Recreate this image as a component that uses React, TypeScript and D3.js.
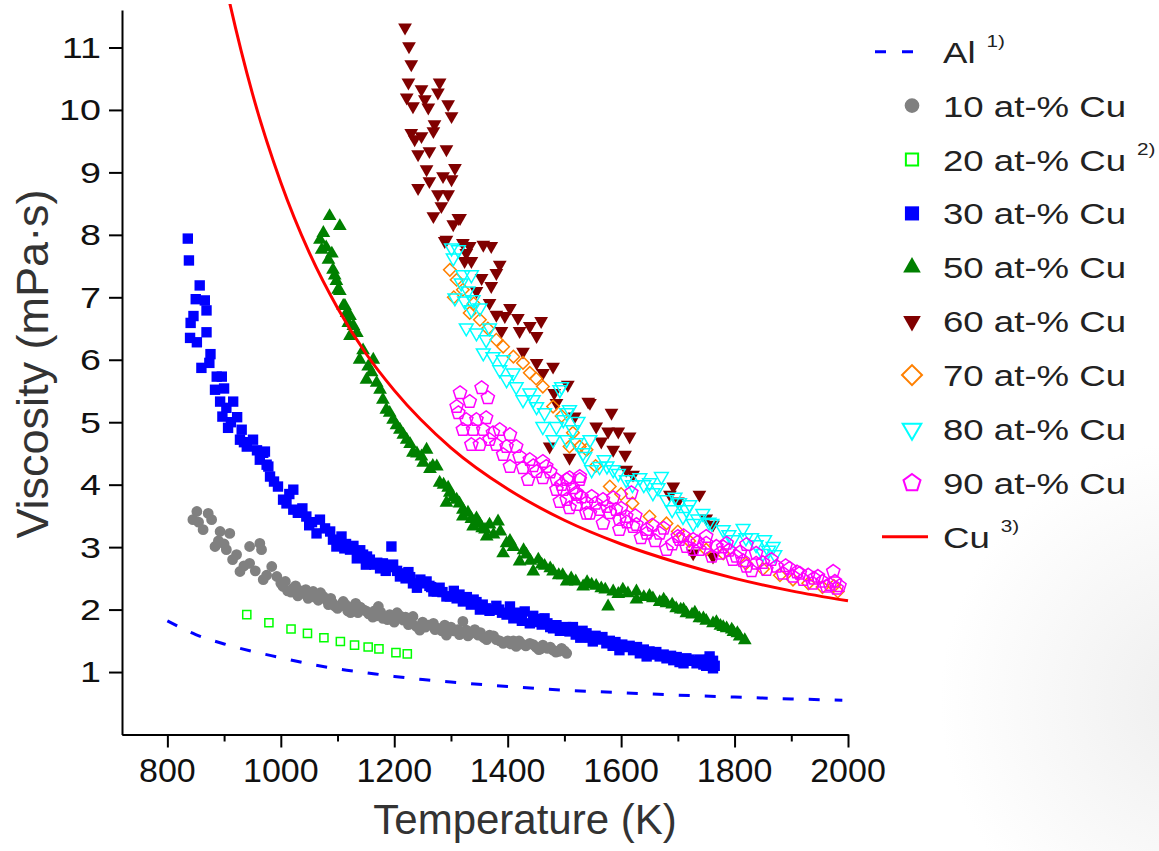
import React, { useEffect, useRef } from "react";
import * as d3 from "d3";

const W = 1159;
const H = 851;

// [temperature K, viscosity mPa·s]
const alLine = [
  [800, 1.82], [850, 1.6], [900, 1.45], [950, 1.33], [1000, 1.23], [1050, 1.13],
  [1100, 1.05], [1150, 0.99], [1200, 0.93], [1250, 0.88], [1300, 0.84], [1400, 0.77],
  [1500, 0.71], [1600, 0.67], [1700, 0.63], [1800, 0.6], [1900, 0.57], [1990, 0.55],
];

const cuLine = [
  [880, 13.0], [900, 12.12], [950, 10.26], [1000, 8.84], [1050, 7.72], [1100, 6.83],
  [1150, 6.1], [1200, 5.51], [1300, 4.59], [1400, 3.93], [1500, 3.43], [1600, 3.05],
  [1700, 2.75], [1800, 2.5], [1900, 2.3], [2000, 2.14],
];

const cu10 = [
  [845, 3.44], [852, 3.57], [855, 3.4], [863, 3.28], [872, 3.54], [878, 3.44], [884, 3.01],
  [890, 3.1], [893, 3.25], [900, 3.05], [904, 2.96], [910, 3.22], [915, 2.8], [922, 2.88],
  [928, 2.61], [935, 2.7], [945, 3.01], [945, 2.74], [955, 2.62], [963, 3.06], [966, 2.96],
  [969, 2.48], [975, 2.55], [984, 2.69], [993, 2.53], [1004, 2.37], [1012, 2.3], [1022, 2.34],
  [1030, 2.22], [1039, 2.26], [1048, 2.18], [1057, 2.29], [1066, 2.15], [1075, 2.21],
  [1084, 2.08], [1092, 2.1], [1100, 2.02], [1110, 2.13], [1118, 1.98], [1128, 2.05],
  [1136, 1.95], [1145, 2.0], [1155, 1.93], [1162, 1.88], [1172, 2.05], [1180, 1.86],
  [1192, 1.92], [1200, 1.8], [1216, 1.83], [1225, 1.76], [1233, 1.89], [1239, 1.73],
  [1245, 1.67], [1255, 1.72], [1269, 1.78], [1278, 1.7], [1289, 1.75], [1292, 1.59],
  [1305, 1.66], [1321, 1.81], [1327, 1.67], [1335, 1.62], [1348, 1.59], [1358, 1.55],
  [1368, 1.59], [1380, 1.52], [1392, 1.46], [1400, 1.5], [1415, 1.41], [1425, 1.45],
  [1439, 1.46], [1450, 1.4], [1462, 1.43], [1470, 1.38], [1480, 1.35], [1490, 1.33],
  [1504, 1.3], [1000, 2.42], [1018, 2.28], [1035, 2.3], [1060, 2.2], [1080, 2.16],
  [1105, 2.06], [1140, 2.04], [1165, 1.98], [1188, 1.84], [1210, 1.9], [1250, 1.8],
  [1300, 1.72], [1315, 1.6], [1342, 1.68], [1410, 1.5], [1455, 1.36], [1495, 1.38],
  [1008, 2.45], [1026, 2.38], [1044, 2.32], [1052, 2.24], [1070, 2.27], [1088, 2.18],
  [1096, 2.05], [1114, 2.08], [1123, 1.95], [1132, 2.1], [1150, 1.98], [1168, 1.9],
  [1176, 1.96], [1196, 1.86], [1205, 1.95], [1220, 1.88], [1230, 1.8], [1260, 1.75],
  [1272, 1.68], [1284, 1.66], [1296, 1.7], [1312, 1.68], [1330, 1.58], [1352, 1.63],
  [1363, 1.52], [1375, 1.58], [1386, 1.5], [1405, 1.45], [1420, 1.5], [1432, 1.42],
  [1445, 1.44], [1458, 1.37], [1475, 1.4], [1485, 1.32], [1500, 1.34],
];

const cu20 = [
  [940, 1.92], [979, 1.79], [1018, 1.69], [1047, 1.62], [1076, 1.55], [1105, 1.49],
  [1130, 1.43], [1154, 1.4], [1173, 1.37], [1203, 1.31], [1223, 1.29],
];

const cu30 = [
  [836, 7.94], [838, 7.59], [857, 7.19], [850, 6.97], [866, 6.95], [869, 6.79], [846, 6.7],
  [841, 6.59], [869, 6.44], [840, 6.35], [852, 6.28], [876, 6.09], [874, 5.95], [860, 5.87],
  [887, 5.73], [896, 5.73], [884, 5.52], [900, 5.54], [893, 5.33], [916, 5.33], [904, 5.23],
  [923, 5.08], [897, 5.09], [907, 4.91], [931, 4.88], [928, 4.72], [940, 4.61], [951, 4.72],
  [972, 4.53], [963, 4.4], [975, 4.32], [969, 4.51], [978, 4.29], [981, 4.13], [995, 3.97],
  [1022, 3.92], [1004, 3.76], [1010, 3.7], [1022, 3.6], [1030, 3.55], [1045, 3.49],
  [1055, 3.4], [1069, 3.44], [1063, 3.22], [1078, 3.3], [1087, 3.25], [1107, 3.17],
  [1098, 3.01], [1115, 3.05], [1122, 2.96], [1134, 2.82], [1145, 2.88], [1157, 2.8],
  [1165, 2.72], [1175, 2.66], [1185, 2.62], [1195, 3.01], [1198, 2.72], [1210, 2.53],
  [1220, 2.5], [1233, 2.42], [1240, 2.35], [1251, 2.42], [1257, 2.45], [1269, 2.29],
  [1275, 2.29], [1285, 2.28], [1292, 2.21], [1298, 2.21], [1310, 2.18], [1321, 2.13],
  [1335, 2.08], [1351, 2.0], [1362, 2.02], [1374, 2.0], [1390, 1.95], [1404, 2.05],
  [1410, 1.86], [1420, 1.88], [1430, 1.97], [1439, 1.78], [1450, 1.8], [1465, 1.86],
  [1475, 1.72], [1486, 1.75], [1497, 1.7], [1509, 1.65], [1520, 1.6], [1528, 1.55],
  [1539, 1.62], [1550, 1.49], [1560, 1.52], [1574, 1.46], [1585, 1.42], [1597, 1.35],
  [1608, 1.4], [1621, 1.35], [1633, 1.3], [1645, 1.25], [1656, 1.28], [1668, 1.25],
  [1680, 1.22], [1692, 1.19], [1703, 1.16], [1715, 1.22], [1725, 1.18], [1733, 1.14],
  [1745, 1.12], [1750, 1.1], [1756, 1.25], [1762, 1.18], [1762, 1.06], [1765, 1.1],
  [912, 5.0], [935, 4.68], [958, 4.55], [988, 4.05], [1015, 3.85], [1038, 3.62],
  [1050, 3.35], [1092, 3.12], [1128, 3.02], [1150, 2.72], [1180, 2.74], [1225, 2.6],
  [1265, 2.36], [1305, 2.3], [1328, 2.2], [1345, 2.12], [1380, 2.06], [1398, 1.92],
  [1445, 1.9], [1460, 1.76], [1492, 1.66], [1515, 1.72], [1545, 1.55], [1567, 1.56],
  [1590, 1.48], [1615, 1.42], [1640, 1.36], [1662, 1.32], [1688, 1.26], [1710, 1.14],
  [1738, 1.2], [1102, 3.1], [1112, 2.98], [1140, 2.95], [1152, 2.85], [1170, 2.75],
  [1190, 2.68], [1205, 2.62], [1215, 2.58], [1228, 2.52], [1246, 2.48], [1262, 2.38],
  [1280, 2.35], [1315, 2.24], [1340, 2.16], [1356, 2.08], [1368, 1.98], [1385, 2.0],
  [1415, 1.95], [1425, 1.82], [1455, 1.85], [1470, 1.78], [1480, 1.7], [1503, 1.72],
  [1532, 1.66], [1555, 1.58], [1580, 1.5], [1602, 1.44], [1628, 1.4], [1650, 1.33],
  [1675, 1.28], [1698, 1.24], [1720, 1.2], [1742, 1.18], [1758, 1.14], [1755, 1.2],
];

const cu50 = [
  [1086, 8.3], [1104, 8.14], [1075, 8.03], [1069, 7.92], [1080, 7.8], [1072, 7.76],
  [1090, 7.7], [1084, 7.6], [1092, 7.44], [1095, 7.35], [1098, 7.26], [1101, 7.12],
  [1104, 7.1], [1110, 6.86], [1113, 6.86], [1116, 6.75], [1122, 6.7], [1119, 6.59],
  [1128, 6.54], [1134, 6.43], [1122, 6.38], [1145, 6.15], [1139, 6.0], [1163, 6.0],
  [1154, 5.89], [1160, 5.8], [1151, 5.68], [1169, 5.63], [1175, 5.52], [1180, 5.36],
  [1186, 5.2], [1192, 5.15], [1198, 5.04], [1204, 4.95], [1210, 4.88], [1216, 4.8],
  [1222, 4.72], [1228, 4.65], [1257, 4.56], [1233, 4.51], [1240, 4.5], [1251, 4.35],
  [1275, 4.29], [1263, 4.25], [1280, 4.03], [1287, 4.0], [1298, 3.87], [1304, 3.8],
  [1310, 3.76], [1292, 3.71], [1321, 3.6], [1330, 3.55], [1321, 3.49], [1345, 3.46],
  [1383, 3.41], [1368, 3.36], [1339, 3.33], [1355, 3.3], [1375, 3.2], [1363, 3.17],
  [1398, 3.06], [1410, 3.0], [1392, 2.9], [1433, 2.88], [1454, 2.8], [1421, 2.77],
  [1465, 2.7], [1445, 2.61], [1480, 2.61], [1490, 2.55], [1504, 2.45], [1520, 2.45],
  [1548, 2.4], [1533, 2.37], [1565, 2.34], [1603, 2.32], [1586, 2.29], [1627, 2.29],
  [1595, 2.25], [1640, 2.2], [1656, 2.18], [1627, 2.16], [1668, 2.12], [1680, 2.1],
  [1690, 2.08], [1577, 2.05], [1697, 2.02], [1705, 2.0], [1715, 1.94], [1725, 1.92],
  [1738, 1.86], [1750, 1.82], [1762, 1.78], [1775, 1.74], [1786, 1.7], [1798, 1.64],
  [1809, 1.57], [1818, 1.51], [1248, 4.45], [1268, 4.3], [1295, 3.95], [1315, 3.7],
  [1336, 3.45], [1350, 3.38], [1360, 3.28], [1387, 3.25], [1404, 3.1], [1428, 2.95],
  [1440, 2.78], [1460, 2.72], [1475, 2.66], [1497, 2.55], [1512, 2.5], [1540, 2.44],
  [1556, 2.38], [1572, 2.32], [1612, 2.26], [1650, 2.22], [1675, 2.16], [1710, 2.0],
  [1730, 1.95], [1745, 1.86], [1768, 1.8], [1780, 1.72], [1795, 1.68], [1805, 1.62],
];

const cu60 = [
  [1219, 11.32], [1226, 11.02], [1230, 10.73], [1225, 10.44], [1280, 10.44], [1248, 10.33],
  [1277, 10.28], [1222, 10.2], [1233, 10.06], [1254, 10.17], [1260, 10.04], [1295, 10.09],
  [1301, 9.9], [1271, 9.77], [1269, 9.66], [1230, 9.63], [1236, 9.53], [1248, 9.58],
  [1292, 9.37], [1242, 9.29], [1262, 9.34], [1257, 9.05], [1307, 9.07], [1286, 8.94],
  [1301, 8.89], [1262, 8.86], [1242, 8.75], [1277, 8.65], [1295, 8.65], [1283, 8.46],
  [1269, 8.3], [1313, 8.27], [1316, 8.27], [1304, 8.17], [1292, 7.92], [1289, 7.9],
  [1321, 7.87], [1333, 7.82], [1357, 7.84], [1371, 7.82], [1327, 7.71], [1324, 7.58],
  [1336, 7.58], [1386, 7.52], [1380, 7.39], [1354, 7.31], [1371, 7.18], [1345, 7.1],
  [1368, 6.91], [1404, 6.83], [1380, 6.72], [1395, 6.7], [1418, 6.67], [1459, 6.62],
  [1439, 6.54], [1389, 6.46], [1421, 6.46], [1451, 6.38], [1427, 6.13], [1451, 5.95],
  [1480, 5.89], [1462, 5.79], [1506, 5.6], [1482, 5.47], [1486, 5.31], [1542, 5.33],
  [1545, 5.31], [1518, 5.09], [1583, 5.15], [1556, 4.93], [1577, 4.85], [1595, 4.85],
  [1615, 4.77], [1565, 4.69], [1474, 4.61], [1586, 4.56], [1607, 4.48], [1509, 4.43],
  [1609, 4.24], [1621, 4.16], [1692, 3.97], [1686, 3.84], [1738, 3.84], [1700, 3.73],
  [1750, 3.46], [1762, 3.36], [1727, 2.9], [1762, 2.85],
];

const cu70 = [
  [1298, 7.44], [1310, 7.28], [1321, 7.12], [1305, 7.0], [1340, 6.9], [1333, 6.75],
  [1351, 6.64], [1365, 6.5], [1380, 6.32], [1392, 6.21], [1410, 6.05], [1427, 5.95],
  [1439, 5.79], [1450, 5.7], [1462, 5.57], [1480, 5.25], [1495, 5.1], [1515, 4.83],
  [1527, 4.61], [1509, 4.61], [1539, 4.56], [1555, 4.3], [1580, 3.97], [1600, 3.85],
  [1620, 3.7], [1650, 3.49], [1680, 3.38], [1700, 3.25], [1720, 3.1], [1750, 2.96],
  [1780, 2.9], [1820, 2.74], [1850, 2.65], [1880, 2.55], [1903, 2.48], [1930, 2.42],
  [1955, 2.36], [1975, 2.38], [1982, 2.29],
];

const cu80 = [
  [1301, 7.79], [1313, 7.76], [1304, 7.63], [1321, 7.36], [1336, 7.36], [1318, 7.23],
  [1307, 6.99], [1324, 6.94], [1339, 6.96], [1336, 6.8], [1351, 6.83], [1327, 6.51],
  [1345, 6.43], [1368, 6.51], [1362, 6.32], [1357, 6.11], [1374, 6.05], [1392, 6.0],
  [1386, 5.84], [1410, 5.79], [1415, 5.57], [1439, 5.47], [1427, 5.36], [1451, 5.25],
  [1465, 5.15], [1492, 5.52], [1495, 5.57], [1462, 4.93], [1486, 4.93], [1504, 5.15],
  [1509, 5.2], [1498, 5.04], [1524, 5.01], [1515, 4.88], [1480, 4.72], [1504, 4.72],
  [1521, 4.67], [1545, 4.72], [1533, 4.51], [1536, 4.45], [1562, 4.29], [1548, 4.24],
  [1586, 4.24], [1609, 4.08], [1633, 4.11], [1650, 4.03], [1671, 4.13], [1656, 3.87],
  [1680, 3.76], [1703, 3.71], [1721, 3.68], [1709, 3.49], [1744, 3.54], [1727, 3.38],
  [1780, 3.28], [1815, 3.3], [1797, 3.12], [1838, 3.04], [1853, 3.12], [1868, 3.01],
  [1850, 2.9], [1871, 2.88], [1330, 7.1], [1398, 5.68], [1445, 5.36], [1570, 4.4],
  [1620, 4.0], [1690, 3.6], [1760, 3.38], [1820, 3.15], [1575, 4.3], [1595, 4.18],
  [1640, 4.0], [1665, 3.95], [1695, 3.8], [1715, 3.6], [1735, 3.45], [1755, 3.4],
  [1790, 3.2], [1830, 3.15], [1860, 2.95],
];

const cu90 = [
  [1316, 5.47], [1354, 5.55], [1333, 5.33], [1365, 5.39], [1310, 5.25], [1313, 5.15],
  [1327, 5.04], [1345, 5.04], [1362, 5.07], [1321, 4.88], [1339, 4.88], [1357, 4.88],
  [1374, 4.83], [1386, 4.88], [1404, 4.8], [1336, 4.64], [1351, 4.64], [1368, 4.72],
  [1380, 4.64], [1398, 4.61], [1415, 4.61], [1392, 4.48], [1421, 4.45], [1439, 4.4],
  [1462, 4.37], [1404, 4.29], [1427, 4.27], [1451, 4.21], [1468, 4.29], [1436, 4.08],
  [1462, 4.11], [1486, 4.08], [1509, 4.11], [1527, 4.13], [1504, 4.08], [1527, 4.08],
  [1486, 3.92], [1498, 3.92], [1504, 3.76], [1521, 3.87], [1521, 3.84], [1548, 3.81],
  [1539, 3.71], [1492, 3.73], [1521, 3.68], [1568, 3.76], [1586, 3.79], [1618, 3.87],
  [1509, 3.63], [1562, 3.6], [1591, 3.6], [1580, 3.55], [1539, 3.54], [1545, 3.54],
  [1609, 3.49], [1597, 3.44], [1610, 3.4], [1568, 3.38], [1627, 3.36], [1621, 3.33],
  [1597, 3.28], [1645, 3.28], [1645, 3.22], [1668, 3.22], [1700, 3.17], [1750, 3.17],
  [1635, 3.15], [1703, 3.12], [1727, 3.12], [1660, 3.1], [1690, 3.05], [1750, 3.06],
  [1786, 3.06], [1821, 3.04], [1715, 3.01], [1768, 3.01], [1680, 2.96], [1727, 2.96],
  [1738, 2.96], [1790, 2.95], [1774, 2.9], [1838, 2.9], [1760, 2.85], [1803, 2.85],
  [1797, 2.8], [1865, 2.8], [1815, 2.78], [1838, 2.74], [1821, 2.69], [1874, 2.69],
  [1897, 2.66], [1856, 2.64], [1830, 2.62], [1974, 2.61], [1910, 2.6], [1885, 2.58],
  [1930, 2.55], [1903, 2.53], [1947, 2.53], [1921, 2.48], [1955, 2.45], [1977, 2.45],
  [1938, 2.42], [1968, 2.4], [1985, 2.38], [1962, 2.37], [1980, 2.34], [1445, 4.3],
  [1475, 4.2], [1495, 4.0], [1515, 3.95], [1530, 3.8], [1555, 3.7], [1575, 3.65],
  [1600, 3.62], [1625, 3.5], [1655, 3.35], [1675, 3.3], [1710, 3.18], [1735, 3.08],
  [1780, 3.0], [1810, 2.92], [1850, 2.75], [1890, 2.7], [1915, 2.58], [1940, 2.5],
];

const legendLabels = [
  "Al", "10 at-% Cu", "20 at-% Cu", "30 at-% Cu", "50 at-% Cu",
  "60 at-% Cu", "70 at-% Cu", "80 at-% Cu", "90 at-% Cu", "Cu",
];
const legendRefs = ["1)", "", "2)", "", "", "", "", "", "", "3)"];

const xMajor = [800, 1000, 1200, 1400, 1600, 1800, 2000];
const xMinor = [900, 1100, 1300, 1500, 1700, 1900];
const yTicks = [1, 2, 3, 4, 5, 6, 7, 8, 9, 10, 11];

// regular pentagon symbol, size is area like d3's own symbols
const symbolPentagon = {
  draw(context: any, size: number) {
    const r = Math.sqrt(size / 2.378);
    for (let i = 0; i < 5; i++) {
      const a = -Math.PI / 2 + (i * 2 * Math.PI) / 5;
      if (i === 0) context.moveTo(r * Math.cos(a), r * Math.sin(a));
      else context.lineTo(r * Math.cos(a), r * Math.sin(a));
    }
    context.closePath();
  },
};

const FONT = "'Liberation Sans', Arial, Helvetica, sans-serif";

export default function App() {
  const ref = useRef<SVGSVGElement>(null);

  useEffect(() => {
    document.body.style.margin = "0";
    const svg = d3.select(ref.current);
    svg.selectAll("*").remove();

    const x = d3.scaleLinear().domain([720, 2000]).range([122, 848]);
    const y = d3.scaleLinear().domain([0, 11.6]).range([734.5, 10]);

    const defs = svg.append("defs");
    const grad = defs
      .append("radialGradient")
      .attr("id", "bg")
      .attr("gradientUnits", "userSpaceOnUse")
      .attr("cx", 1200)
      .attr("cy", 700)
      .attr("r", 260);
    grad.append("stop").attr("offset", 0).attr("stop-color", "#eeeeee");
    grad.append("stop").attr("offset", 1).attr("stop-color", "#ffffff");
    defs
      .append("clipPath")
      .attr("id", "plot")
      .append("rect")
      .attr("x", 122)
      .attr("y", 4)
      .attr("width", 745)
      .attr("height", 731);

    svg.append("rect").attr("width", W).attr("height", H).attr("fill", "#fff");
    svg.append("rect").attr("width", W).attr("height", H).attr("fill", "url(#bg)");

    // size = marker area in the plot, leg = marker area in the legend
    const series = [
      { data: cu10, type: d3.symbolCircle, size: 92, leg: 170, fill: "#808080", stroke: "none", rot: 0 },
      { data: cu20, type: d3.symbolSquare, size: 66, leg: 150, fill: "none", stroke: "#00ff00", rot: 0 },
      { data: cu30, type: d3.symbolSquare, size: 108, leg: 200, fill: "#0000ff", stroke: "none", rot: 0 },
      { data: cu50, type: d3.symbolTriangle, size: 82, leg: 135, fill: "#008000", stroke: "none", rot: 0 },
      { data: cu60, type: d3.symbolTriangle, size: 82, leg: 135, fill: "#800000", stroke: "none", rot: 180 },
      { data: cu70, type: d3.symbolSquare, size: 78, leg: 200, fill: "none", stroke: "#ff8000", rot: 45 },
      { data: cu80, type: d3.symbolTriangle, size: 82, leg: 150, fill: "none", stroke: "#00ffff", rot: 180 },
      { data: cu90, type: symbolPentagon, size: 115, leg: 190, fill: "none", stroke: "#ff00ff", rot: 0 },
    ];

    const plot = svg.append("g").attr("clip-path", "url(#plot)");

    const line = d3
      .line<number[]>()
      .x((d) => x(d[0]))
      .y((d) => y(d[1]))
      .curve(d3.curveMonotoneX);

    plot
      .append("path")
      .attr("d", line(alLine))
      .attr("fill", "none")
      .attr("stroke", "#0000ff")
      .attr("stroke-width", 3)
      .attr("stroke-dasharray", "11,15");

    series.forEach((s) => {
      const path = d3.symbol().type(s.type as any).size(s.size)();
      plot
        .append("g")
        .selectAll("path")
        .data(s.data)
        .join("path")
        .attr("d", path)
        .attr("transform", (d) => `translate(${x(d[0])},${y(d[1])}) rotate(${s.rot})`)
        .attr("fill", s.fill)
        .attr("stroke", s.stroke)
        .attr("stroke-width", 1.5);
    });

    plot
      .append("path")
      .attr("d", line(cuLine))
      .attr("fill", "none")
      .attr("stroke", "#ff0000")
      .attr("stroke-width", 3);

    // axes
    const axisStyle = (g: any) => {
      g.select(".domain").attr("stroke", "#000").attr("stroke-width", 2);
      g.selectAll(".tick line").attr("stroke", "#000").attr("stroke-width", 2);
      g.selectAll(".tick text").remove();
    };
    svg
      .append("g")
      .attr("transform", "translate(0,734.5)")
      .call(d3.axisBottom(x).tickValues(xMinor).tickSize(7).tickSizeOuter(0))
      .call(axisStyle);
    svg
      .append("g")
      .attr("transform", "translate(0,734.5)")
      .call(d3.axisBottom(x).tickValues(xMajor).tickSize(13).tickSizeOuter(0))
      .call(axisStyle);
    svg
      .append("g")
      .attr("transform", "translate(122,0)")
      .call(d3.axisLeft(y).tickValues(yTicks).tickSize(13).tickSizeOuter(0))
      .call(axisStyle);

    svg
      .append("g")
      .selectAll("text")
      .data(xMajor)
      .join("text")
      .attr("x", (d) => x(d))
      .attr("y", 782)
      .attr("text-anchor", "middle")
      .attr("font-family", FONT)
      .attr("font-size", 34)
      .attr("fill", "#111")
      .text((d) => d);

    svg
      .append("g")
      .selectAll("text")
      .data(yTicks)
      .join("text")
      .attr("transform", (d) => `translate(101,${y(d)}) scale(1.3,1)`)
      .attr("dy", "0.36em")
      .attr("text-anchor", "end")
      .attr("font-family", FONT)
      .attr("font-size", 29)
      .attr("fill", "#111")
      .text((d) => d);

    svg
      .append("text")
      .attr("x", 525)
      .attr("y", 834)
      .attr("text-anchor", "middle")
      .attr("font-family", FONT)
      .attr("font-size", 42)
      .attr("fill", "#333")
      .text("Temperature (K)");

    svg
      .append("text")
      .attr("transform", "translate(48,364) rotate(-90)")
      .attr("text-anchor", "middle")
      .attr("font-family", FONT)
      .attr("font-size", 45)
      .attr("fill", "#333")
      .text("Viscosity (mPa·s)");

    // legend
    const leg = svg.append("g");
    const rowY = (i: number) => 51.7 + i * 53.9;
    leg
      .append("line")
      .attr("x1", 875)
      .attr("x2", 914)
      .attr("y1", rowY(0))
      .attr("y2", rowY(0))
      .attr("stroke", "#0000ff")
      .attr("stroke-width", 3)
      .attr("stroke-dasharray", "11,16");
    series.forEach((s, i) => {
      const path = d3.symbol().type(s.type as any).size(s.leg)();
      leg
        .append("path")
        .attr("d", path)
        .attr("transform", `translate(912,${rowY(i + 1)}) rotate(${s.rot})`)
        .attr("fill", s.fill)
        .attr("stroke", s.stroke)
        .attr("stroke-width", 2);
    });
    leg
      .append("line")
      .attr("x1", 882)
      .attr("x2", 928)
      .attr("y1", rowY(9))
      .attr("y2", rowY(9))
      .attr("stroke", "#ff0000")
      .attr("stroke-width", 3);

    legendLabels.forEach((lab, i) => {
      const t = leg
        .append("text")
        .attr("transform", `translate(943,${rowY(i) + 11}) scale(1.22,1)`)
        .attr("font-family", FONT)
        .attr("font-size", 30)
        .attr("fill", "#222")
        .text(lab);
      if (legendRefs[i]) {
        t.append("tspan")
          .attr("dx", 9)
          .attr("dy", -16)
          .attr("font-size", 17)
          .text(legendRefs[i]);
      }
    });
  }, []);

  return <svg ref={ref} width={W} height={H} style={{ display: "block" }} />;
}
